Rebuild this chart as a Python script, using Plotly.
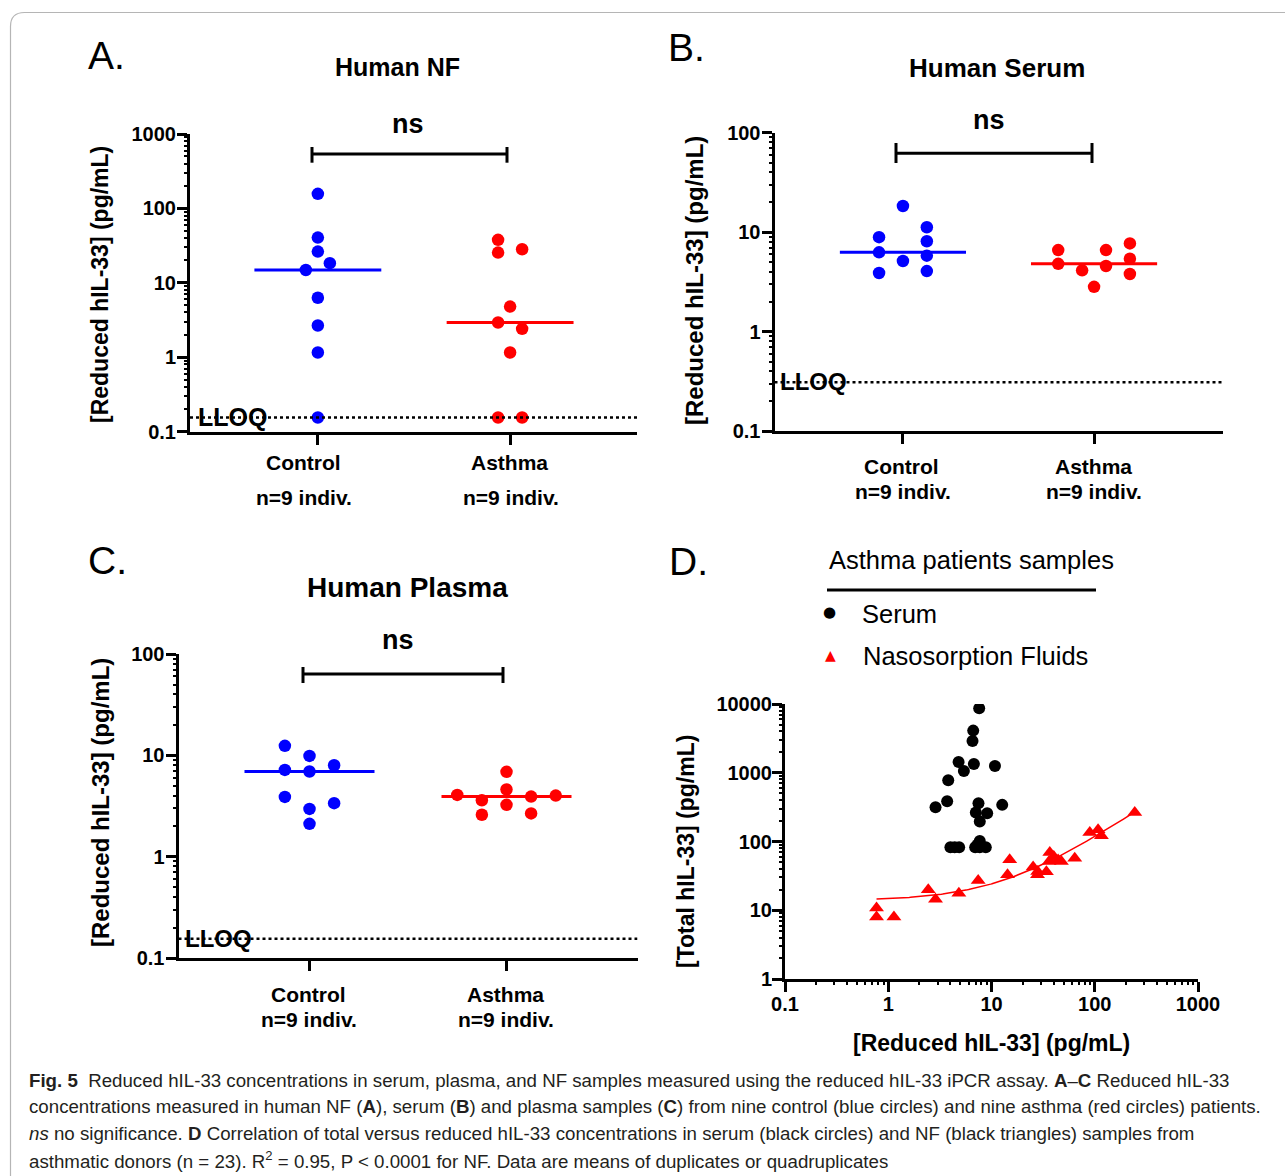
import numpy as np
import plotly.graph_objects as go

W, H = 1285, 1176

# ---------------- data ----------------
categories = ["Control", "Asthma"]
n_label = "n=9 indiv."

nf_control = [157, 40.6, 26.3, 18.4, 14.9, 6.3, 2.67, 1.16, 0.155]
nf_asthma = [37.8, 25.5, 28.3, 4.8, 2.93, 2.41, 1.16, 0.155, 0.155]
serum_control = [18.3, 11.2, 8.9, 8.1, 6.26, 5.8, 5.13, 3.88, 4.06]
serum_asthma = [6.6, 6.6, 7.7, 4.8, 4.56, 5.4, 4.13, 3.79, 2.82]
plasma_control = [12.4, 9.87, 7.98, 7.18, 6.92, 3.89, 3.37, 2.96, 2.11]
plasma_asthma = [6.87, 4.6, 4.07, 3.92, 4.01, 3.6, 3.25, 2.59, 2.67]

nf_lloq = 0.155
serum_lloq = 0.31
plasma_lloq = 0.155

yticks_A = [0.1, 1, 10, 100, 1000]
yticks_BC = [0.1, 1, 10, 100]
d_xticks = [0.1, 1, 10, 100, 1000]
d_yticks = [1, 10, 100, 1000, 10000]

serum_reduced = [7.6, 6.65, 6.55, 4.8, 6.75, 10.8, 5.4, 3.81, 3.72, 2.87, 7.48, 12.7,
                 7.05, 9.08, 7.7, 7.7, 4.0, 4.4, 4.86, 6.95, 7.7, 8.8, 7.3]
serum_total = [8650, 4100, 2900, 1437, 1343, 1258, 1064, 778, 385, 315, 360, 341,
               264, 258, 195, 102, 82.7, 82.7, 82.7, 82.7, 82.7, 82.7, 90]
nfluid_reduced = [0.77, 0.77, 1.135, 2.44, 2.87, 4.83, 7.43, 14.3, 15.0, 25.3, 27.9, 28.0,
                  34.0, 36.7, 40.1, 36.1, 44.2, 47.5, 64.0, 89.5, 107.7, 116.0, 244.0]
nfluid_total = [10.8, 7.96, 7.96, 19.9, 14.5, 17.7, 27.1, 32.8, 54.2, 42.4, 32.8, 36.6,
                36.2, 69.2, 60.5, 51.0, 54.0, 51.0, 57.3, 135.0, 148.0, 121.0, 264.0]

# ---------------- style ----------------
FONT = "Liberation Sans, Arial, sans-serif"
CAP_FONT = "Liberation Sans, Arial, sans-serif"
BLUE = "#0000ff"
RED = "#ff0000"
JIT_STEP = 0.0625  # horizontal spread step (category units)
MED_HALF = 0.33

# horizontal spread of dots (in steps), purely visual placement
spread = {
    "A": ([0, 0, 0, 1, -1, 0, 0, 0, 0], [-1, -1, 1, 0, -1, 1, 0, -1, 1]),
    "B": ([0, 2, -2, 2, -2, 2, 0, -2, 2], [-3, 1, 3, -3, 1, 3, -1, 3, 0]),
    "C": ([-2, 0, 2, -2, 0, -2, 2, 0, 0], [0, 0, -4, 2, 4, -2, 0, -2, 2]),
}


def fx(p):
    return p / W


def fy(p):
    return 1 - p / H


def minor_vals(lo, hi):
    return [m * 10.0 ** e for e in range(lo, hi) for m in range(2, 10)]


def btxt(v):
    return f"<b>{v:g}</b>"


panels = [
    dict(key="A", n="", mn="6", box=(190, 134, 637, 431.7), xr=(-0.665, 1.66), yr=(-1, 3),
         yt=yticks_A, ctrl=nf_control, asth=nf_asthma, lloq=nf_lloq),
    dict(key="B", n="2", mn="7", box=(774.5, 132.7, 1222.5, 431), xr=(-0.672, 1.672), yr=(-1, 2),
         yt=yticks_BC, ctrl=serum_control, asth=serum_asthma, lloq=serum_lloq),
    dict(key="C", n="3", mn="8", box=(178.5, 654, 637.5, 958), xr=(-0.665, 1.665), yr=(-1, 2),
         yt=yticks_BC, ctrl=plasma_control, asth=plasma_asthma, lloq=plasma_lloq),
]

fig = go.Figure()
layout = dict(
    width=W, height=H, autosize=False,
    margin=dict(l=0, r=0, t=0, b=0, pad=0, autoexpand=False),
    paper_bgcolor="white", plot_bgcolor="rgba(0,0,0,0)",
    showlegend=False,
    font=dict(family=FONT, color="black"),
)

axis_common = dict(
    showline=True, linecolor="black", linewidth=3,
    ticks="outside", ticklen=10, tickwidth=2.5, tickcolor="black",
    showgrid=False, zeroline=False, automargin=False,
    tickfont=dict(family=FONT, size=20, color="black"),
)


def minor_axis(over, anchor, rng, vals, side):
    return dict(overlaying=over, anchor=anchor, type="log", range=list(rng), side=side,
                showline=False, showgrid=False, zeroline=False, showticklabels=False,
                automargin=False,
                ticks="outside", ticklen=5, tickwidth=2, tickcolor="black",
                tickmode="array", tickvals=vals)


for p in panels:
    n = p["n"]
    xa, ya = "x" + n, "y" + n
    x0, y0, x1, y1 = p["box"]
    layout["xaxis" + n] = dict(
        axis_common, domain=[fx(x0), fx(x1)], range=list(p["xr"]), anchor=ya,
        tickmode="array", tickvals=[0, 1], showticklabels=False,
    )
    layout["yaxis" + n] = dict(
        axis_common, type="log", domain=[fy(y1), fy(y0)], range=list(p["yr"]), anchor=xa,
        tickmode="array", tickvals=p["yt"], ticktext=[btxt(v) for v in p["yt"]],
        ticklabelstandoff=-3,
    )
    layout["yaxis" + p["mn"]] = minor_axis(ya, xa, p["yr"], minor_vals(p["yr"][0], p["yr"][1]), "left")
    fig.add_trace(go.Scatter(x=[], y=[], xaxis=xa, yaxis="y" + p["mn"], mode="markers"))

    jc, ja = spread[p["key"]]
    for ci, (vals, jit, col) in enumerate([(p["ctrl"], jc, BLUE), (p["asth"], ja, RED)]):
        fig.add_trace(go.Scatter(
            x=[ci + JIT_STEP * j for j in jit], y=vals, mode="markers",
            marker=dict(color=col, size=12.5, line=dict(width=0)),
            xaxis=xa, yaxis=ya, cliponaxis=False,
        ))
        med = float(np.median(vals))
        fig.add_trace(go.Scatter(
            x=[ci - MED_HALF, ci + MED_HALF], y=[med, med], mode="lines",
            line=dict(color=col, width=3), xaxis=xa, yaxis=ya,
        ))
    fig.add_trace(go.Scatter(
        x=list(p["xr"]), y=[p["lloq"], p["lloq"]], mode="lines",
        line=dict(color="black", width=2.5, dash="dot"), xaxis=xa, yaxis=ya,
    ))

# ---- panel D ----
layout["xaxis4"] = dict(
    axis_common, type="log", domain=[fx(785), fx(1198)], range=[-1, 3], anchor="y4",
    tickmode="array", tickvals=d_xticks, ticktext=[btxt(v) for v in d_xticks],
    ticklabelstandoff=-5,
)
layout["yaxis4"] = dict(
    axis_common, type="log", domain=[fy(979), fy(704)], range=[0, 4], anchor="x4",
    tickmode="array", tickvals=d_yticks, ticktext=[btxt(v) for v in d_yticks],
    ticklabelstandoff=-4,
)
layout["yaxis9"] = minor_axis("y4", "x4", (0, 4), minor_vals(0, 4), "left")
layout["xaxis6"] = minor_axis("x4", "y4", (-1, 3), minor_vals(-1, 3), "bottom")
fig.add_trace(go.Scatter(x=[], y=[], xaxis="x4", yaxis="y9", mode="markers"))
fig.add_trace(go.Scatter(x=[], y=[], xaxis="x6", yaxis="y4", mode="markers"))

fig.add_trace(go.Scatter(
    x=serum_reduced, y=serum_total, mode="markers",
    marker=dict(color="black", size=12, symbol="circle"), xaxis="x4", yaxis="y4",
))
slope, intercept = np.polyfit(nfluid_reduced, nfluid_total, 1)
xf = np.logspace(np.log10(min(nfluid_reduced)), np.log10(max(nfluid_reduced)), 200)
fig.add_trace(go.Scatter(
    x=xf, y=intercept + slope * xf, mode="lines",
    line=dict(color=RED, width=1.5), xaxis="x4", yaxis="y4",
))
fig.add_trace(go.Scatter(
    x=nfluid_reduced, y=nfluid_total, mode="markers",
    marker=dict(color=RED, size=13, symbol="triangle-up"), xaxis="x4", yaxis="y4",
))

# ---------------- annotations ----------------
ann = []


def A(text, x, y, size, xanchor="center", angle=0, color="black", family=FONT):
    ann.append(dict(text=text, x=fx(x), y=fy(y), xref="paper", yref="paper",
                    xanchor=xanchor, yanchor="middle", showarrow=False, textangle=angle,
                    font=dict(family=family, size=size, color=color)))


# panel letters
A("A.", 106, 55, 39)
A("B.", 686, 47, 39)
A("C.", 107, 560, 39)
A("D.", 688, 561, 39)
# titles
A("<b>Human NF</b>", 397, 67, 25)
A("<b>Human Serum</b>", 997, 68, 26)
A("<b>Human Plasma</b>", 407, 587, 28)
# ns
A("<b>ns</b>", 408, 124, 27)
A("<b>ns</b>", 989, 120, 27)
A("<b>ns</b>", 398, 640, 27)
# y titles
ytitle = "<b>[Reduced hIL-33] (pg/mL)</b>"
A(ytitle, 100, 285, 23, angle=-90)
A(ytitle, 695, 281, 24, angle=-90)
A(ytitle, 100, 803, 24, angle=-90)
A("<b>[Total hIL-33] (pg/mL)</b>", 686, 852, 23, angle=-90)
A("<b>[Reduced hIL-33] (pg/mL)</b>", 991, 1043, 23)
# category labels
for (cx, ax_, ly1, ly2) in [(303, 510, 463, 497), (902, 1093, 466, 491), (308, 505, 994, 1019)]:
    A(f"<b>{categories[0]}</b>", cx, ly1, 21)
    A(f"<b>{n_label}</b>", cx + 1, ly2, 21)
    A(f"<b>{categories[1]}</b>", ax_, ly1, 21)
    A(f"<b>{n_label}</b>", ax_ + 1, ly2, 21)
# LLOQ labels
A("<b>LLOQ</b>", 232, 417, 25)
A("<b>LLOQ</b>", 813, 381, 24)
A("<b>LLOQ</b>", 218, 938, 24)
# legend D
A("Asthma patients samples", 827, 560, 25.5, xanchor="left")
A("Serum", 860, 614, 25.5, xanchor="left")
A("Nasosorption Fluids", 861, 656, 25.5, xanchor="left")
A("●", 829, 612, 15, family="DejaVu Sans")
A("<span style='color:#ff0000'>▲</span>", 830, 655, 14, family="DejaVu Sans")

# caption
cap = [
    "<b>Fig. 5</b>  Reduced hIL-33 concentrations in serum, plasma, and NF samples measured using the reduced hIL-33 iPCR assay. <b>A</b>–<b>C</b> Reduced hIL-33",
    "concentrations measured in human NF (<b>A</b>), serum (<b>B</b>) and plasma samples (<b>C</b>) from nine control (blue circles) and nine asthma (red circles) patients.",
    "<i>ns</i> no significance. <b>D</b> Correlation of total versus reduced hIL-33 concentrations in serum (black circles) and NF (black triangles) samples from",
    "asthmatic donors (n = 23). R<sup>2</sup> = 0.95, P &lt; 0.0001 for NF. Data are means of duplicates or quadruplicates",
]
for i, line in enumerate(cap):
    A(line, 27, 1080 + i * 26.6, 18.7, xanchor="left", color="#231f20", family=CAP_FONT)

layout["annotations"] = ann

# ---------------- shapes ----------------
shapes = []


def L(x0, y0, x1, y1, w=3, color="black"):
    shapes.append(dict(type="line", xref="paper", yref="paper",
                       x0=fx(x0), y0=fy(y0), x1=fx(x1), y1=fy(y1),
                       line=dict(color=color, width=w)))


for (bx0, bx1, by, t0, t1) in [(312, 507, 154, 147, 162.7), (896, 1092, 153.3, 143, 163),
                               (303, 503, 674, 667, 683)]:
    L(bx0, by, bx1, by)
    L(bx0, t0, bx0, t1)
    L(bx1, t0, bx1, t1)
# legend underline
L(827, 590, 1096, 590, w=3)
# frame
r = 14
path = (f"M {fx(10.5)},{fy(1176)} L {fx(10.5)},{fy(12.5 + r)} "
        f"Q {fx(10.5)},{fy(12.5)} {fx(10.5 + r)},{fy(12.5)} L {fx(1285)},{fy(12.5)}")
shapes.append(dict(type="path", xref="paper", yref="paper", path=path,
                   line=dict(color="#b5b5b5", width=1.2)))
layout["shapes"] = shapes

fig.update_layout(**layout)
fig.write_html("out.html", config={"displayModeBar": False},
               post_script="document.body.style.margin='0';document.body.style.overflow='hidden';")
